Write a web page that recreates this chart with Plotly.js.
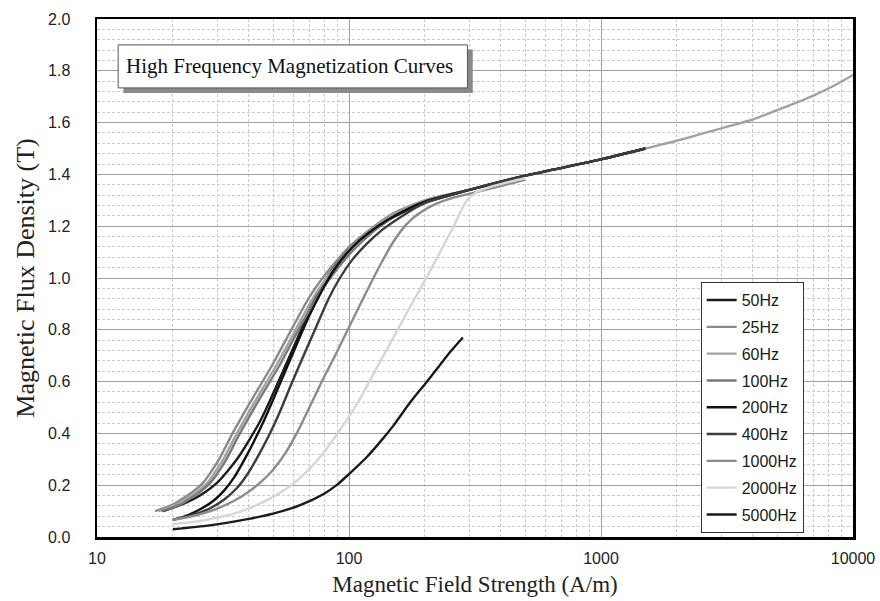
<!DOCTYPE html>
<html>
<head>
<meta charset="utf-8">
<script src="https://cdn.plot.ly/plotly-3.0.1.min.js"></script>
<style>html,body{margin:0;padding:0;background:#fff;}#chart{width:880px;height:601px;}</style>
</head>
<body>
<div id="chart"></div>
<script>
// Series names and styles (legend order)
const seriesNames = ["50Hz","25Hz","60Hz","100Hz","200Hz","400Hz","1000Hz","2000Hz","5000Hz"];
const seriesColors = ["#1c1c1c","#8a8a8a","#a2a2a2","#7a7a7a","#111111","#3c3c3c","#8c8c8c","#d6d6d6","#1a1a1a"];

// Field strength H (A/m) and flux density B (T)
const h50 = [18.3,21,24,27,30,33,36.5,40.5,44,47.2,55,62,70,81.6,95,110,130,150,200,300,500,1000,1500];
const b50 = [0.10,0.12,0.145,0.175,0.21,0.255,0.31,0.38,0.44,0.50,0.645,0.76,0.88,1.00,1.09,1.145,1.195,1.235,1.29,1.34,1.395,1.458,1.50];

const h25 = [17,20,22,24,26.4,28.5,30.5,34.5,40,50,59,70,80,90,100,115,130,150,200,300,500,1000,1500];
const b25 = [0.10,0.125,0.15,0.175,0.21,0.255,0.30,0.40,0.51,0.67,0.80,0.93,1.01,1.07,1.12,1.17,1.21,1.25,1.30,1.34,1.395,1.458,1.50];

const h60 = [17.5,20.5,22.8,25,27.5,29.6,31.7,35.9,41.6,52,61.4,72.8,83,93,103,117,130,150,200,300,500,700,1000,1500,2000,3000,4000,5000,6000,7000,8500,10000];
const b60 = [0.10,0.125,0.15,0.175,0.21,0.255,0.30,0.40,0.51,0.67,0.80,0.93,1.01,1.07,1.12,1.17,1.205,1.245,1.30,1.34,1.395,1.425,1.458,1.50,1.53,1.578,1.612,1.648,1.678,1.705,1.745,1.784];

const h100 = [18,21.4,23.5,25.7,28.2,30.5,32.6,36.9,42.8,53.5,63,75,85,96,107,120,135,155,200,300,500,1000,1500];
const b100 = [0.10,0.125,0.15,0.175,0.21,0.255,0.30,0.40,0.51,0.67,0.80,0.93,1.005,1.07,1.12,1.165,1.205,1.245,1.295,1.34,1.395,1.458,1.50];

const h200 = [20,23,26,29,32,35,38.5,42,46,51,57,63,70,78,87,97,110,130,155,200,300,500,1000,1500];
const b200 = [0.066,0.085,0.11,0.14,0.18,0.23,0.30,0.37,0.45,0.55,0.66,0.76,0.86,0.95,1.03,1.09,1.145,1.20,1.245,1.295,1.34,1.395,1.458,1.50];

const h400 = [20,24,28,32,36,40,44,48,53,59,66,74,83,92,103,117,135,160,200,300,500,1000,1500];
const b400 = [0.066,0.085,0.11,0.145,0.19,0.25,0.32,0.39,0.48,0.59,0.70,0.81,0.92,1.00,1.07,1.13,1.185,1.235,1.29,1.34,1.395,1.458,1.50];

const h1000 = [20,25,30,35,40,45,50,56,62,70,78,88,100,115,133,150,170,190,220,260,300,400,500];
const b1000 = [0.066,0.085,0.11,0.14,0.175,0.215,0.26,0.325,0.40,0.505,0.60,0.70,0.81,0.93,1.05,1.14,1.21,1.25,1.285,1.31,1.325,1.355,1.38];

const h2000 = [20,25,30,35,40,50,60,70,80,90,100,113,130,150,175,200,230,260,294,320,360,420,500];
const b2000 = [0.05,0.06,0.075,0.09,0.11,0.155,0.205,0.265,0.33,0.40,0.465,0.55,0.66,0.77,0.89,0.99,1.10,1.20,1.30,1.33,1.35,1.368,1.385];

const h5000 = [20,28,40,50,64,80,90,100,118,135,150,175,200,230,250,283];
const b5000 = [0.03,0.045,0.07,0.09,0.123,0.168,0.203,0.243,0.31,0.375,0.43,0.52,0.59,0.665,0.71,0.77];

const xs = [h50,h25,h60,h100,h200,h400,h1000,h2000,h5000];
const ys = [b50,b25,b60,b100,b200,b400,b1000,b2000,b5000];

const xTicks = [10,100,1000,10000];
const xTickText = ["10","100","1000","10000"];
const titleText = "High Frequency Magnetization Curves";

const traces = seriesNames.map((n,i)=>({
  type:'scatter', mode:'lines', name:n, x:xs[i], y:ys[i],
  line:{color:seriesColors[i], width:2.4, shape:'spline', smoothing:0.7},
  legendgroup:'g'+i
}));

const layout = {
  width:880, height:601,
  margin:{l:97, r:27, t:19, b:64},
  paper_bgcolor:'#ffffff', plot_bgcolor:'#ffffff',
  showlegend:true,
  legend:{x:0.7985, xanchor:'left', y:0.492, yanchor:'top',
    bgcolor:'#ffffff', bordercolor:'#333', borderwidth:1,
    font:{family:'Liberation Sans, Arial, sans-serif', size:16, color:'#1a1a1a'},
    tracegroupgap:3, itemwidth:30},
  xaxis:{type:'log', range:[1,4], tickvals:xTicks, ticktext:xTickText,
    showgrid:true, gridcolor:'#a0a0a0', gridwidth:1,
    minor:{dtick:'D1', showgrid:true, gridcolor:'#cbcbcb', griddash:'3px,2px', gridwidth:1},
    showline:true, mirror:true, linecolor:'#000', linewidth:2.5,
    ticks:'', ticklabelstandoff:5,
    tickfont:{family:'Liberation Sans, Arial, sans-serif', size:16, color:'#222'},
    title:{text:'Magnetic Field Strength (A/m)', font:{family:'Liberation Serif, Times New Roman, serif', size:23, color:'#222'}, standoff:10},
    zeroline:false},
  yaxis:{range:[0,2], dtick:0.2, tickformat:'.1f',
    showgrid:true, gridcolor:'#a0a0a0', gridwidth:1,
    minor:{dtick:0.04, showgrid:true, gridcolor:'#cbcbcb', griddash:'3px,2px', gridwidth:1},
    showline:true, mirror:true, linecolor:'#000', linewidth:2.5,
    ticks:'', ticklabelstandoff:21,
    tickfont:{family:'Liberation Sans, Arial, sans-serif', size:16, color:'#222'},
    title:{text:'Magnetic Flux Density (T)', font:{family:'Liberation Serif, Times New Roman, serif', size:26, color:'#222'}, standoff:6},
    zeroline:false},
  shapes:[
    {type:'rect', xref:'paper', yref:'paper', x0:0.035, x1:0.497, y0:0.857, y1:0.941, fillcolor:'#8a8a8a', line:{width:0}, layer:'above'},
    {type:'rect', xref:'paper', yref:'paper', x0:0.028, x1:0.490, y0:0.867, y1:0.950, fillcolor:'#ffffff', line:{color:'#555', width:1}, layer:'above'}
  ],
  annotations:[
    {xref:'paper', yref:'paper', x:0.2546, y:0.9085, xanchor:'center', yanchor:'middle', showarrow:false,
     text:titleText, font:{family:'Liberation Serif, Times New Roman, serif', size:21, color:'#111'}}
  ]
};

Plotly.newPlot('chart', traces, layout, {displayModeBar:false, staticPlot:true});
</script>
</body>
</html>
